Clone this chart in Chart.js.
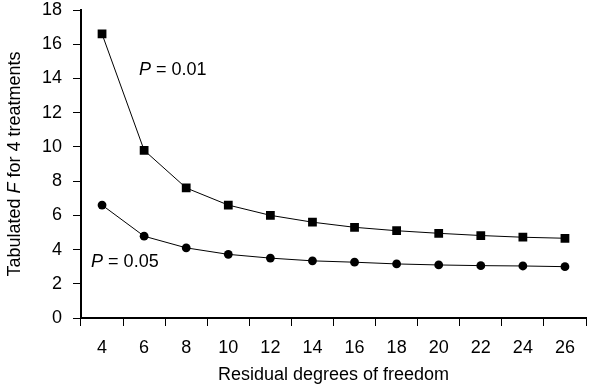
<!DOCTYPE html>
<html lang="en">
<head>
    <meta charset="UTF-8">
    <title>Tabulated F</title>
    <script src="https://cdn.jsdelivr.net/npm/chart.js"></script>
    <style>
        html, body { margin: 0; padding: 0; background: #fff; }
        #box { width: 612px; height: 388px; position: relative; }
    </style>
</head>
<body>
    <div id="box">
        <canvas id="grafico"></canvas>
    </div>
<script>
// dados
const grausLiberdade = ['4', '6', '8', '10', '12', '14', '16', '18', '20', '22', '24', '26'];
const fP001 = [16.6, 9.8, 7.6, 6.6, 6.0, 5.6, 5.3, 5.1, 4.95, 4.82, 4.72, 4.66];
const fP005 = [6.6, 4.78, 4.1, 3.72, 3.5, 3.34, 3.26, 3.16, 3.1, 3.06, 3.04, 3.0];
const yTicks = [0, 2, 4, 6, 8, 10, 12, 14, 16, 18];

// rótulos das curvas (posição em unidades do gráfico)
const rotulos = [
    { texto: '0.01', x: 0.88, y: 14.5 },
    { texto: '0.05', x: -0.26, y: 3.3 }
];

const fonte = 'Liberation Sans, Arial, sans-serif';
const tam = 18;

// escreve trechos com fontes diferentes (normal / itálico) em sequência
function textoMisto(ctx, partes, x, y) {
    let total = 0;
    partes.forEach(p => { ctx.font = (p.it ? 'italic ' : '') + tam + 'px ' + fonte; total += ctx.measureText(p.t).width; });
    let cx = x - total / 2;
    partes.forEach(p => {
        ctx.font = (p.it ? 'italic ' : '') + tam + 'px ' + fonte;
        ctx.fillText(p.t, cx, y);
        cx += ctx.measureText(p.t).width;
    });
}

const rotulosPlugin = {
    id: 'rotulos',
    afterDatasetsDraw(chart) {
        const ctx = chart.ctx;
        const xs = chart.scales.x, ys = chart.scales.y;
        ctx.save();
        ctx.fillStyle = '#000';
        ctx.textBaseline = 'middle';
        ctx.textAlign = 'left';
        rotulos.forEach(r => {
            const p0 = xs.getPixelForValue(0), p1 = xs.getPixelForValue(1);
            const px = p0 + (p1 - p0) * r.x;
            const py = ys.getPixelForValue(r.y);
            ctx.font = 'italic ' + tam + 'px ' + fonte;
            ctx.fillText('P', px, py);
            let w = ctx.measureText('P').width;
            ctx.font = tam + 'px ' + fonte;
            ctx.fillText(' = ' + r.texto, px + w, py);
        });
        // título do eixo y com F em itálico
        const area = chart.chartArea;
        ctx.translate(15, (area.top + area.bottom) / 2);
        ctx.rotate(-Math.PI / 2);
        textoMisto(ctx, [{ t: 'Tabulated ' }, { t: 'F', it: true }, { t: ' for 4 treatments' }], 0, 0);
        ctx.restore();
    }
};

const dados = {
    labels: grausLiberdade,
    datasets: [{
        label: 'P = 0.01',
        data: fP001,
        borderColor: '#000',
        backgroundColor: '#000',
        borderWidth: 1,
        pointStyle: 'rect',
        pointRadius: 6.2,
        pointBorderWidth: 0,
        tension: 0
    }, {
        label: 'P = 0.05',
        data: fP005,
        borderColor: '#000',
        backgroundColor: '#000',
        borderWidth: 1,
        pointStyle: 'circle',
        pointRadius: 4.4,
        pointBorderWidth: 0,
        tension: 0
    }]
};

const config = {
    type: 'line',
    data: dados,
    options: {
        responsive: true,
        maintainAspectRatio: false,
        animation: false,
        layout: { padding: { top: 0, right: 26, left: 0, bottom: 2 } },
        plugins: { legend: { display: false }, tooltip: { enabled: false } },
        scales: {
            x: {
                offset: true,
                grid: {
                    offset: true,
                    drawOnChartArea: false,
                    drawTicks: true,
                    tickLength: 8,
                    color: ctx => ctx.index === grausLiberdade.length ? 'rgba(0,0,0,0)' : '#000',
                    lineWidth: 1
                },
                border: { display: true, color: '#000', width: 2 },
                ticks: { color: '#000', font: { family: fonte, size: tam }, padding: 11, maxRotation: 0 },
                title: {
                    display: true, text: 'Residual degrees of freedom', color: '#000',
                    font: { family: fonte, size: tam }, padding: { top: 0, bottom: 0 }
                },
                afterFit(scale) { scale.height = 68; }
            },
            y: {
                min: 0, max: 18,
                afterBuildTicks(scale) { scale.ticks = yTicks.map(v => ({ value: v })); },
                grid: { drawOnChartArea: false, drawTicks: true, tickLength: 8, color: '#000', lineWidth: 1 },
                border: { display: true, color: '#000', width: 2 },
                ticks: { color: '#000', font: { family: fonte, size: tam }, padding: 11 },
                afterFit(scale) { scale.width = 81; scale.paddingTop = 10; scale.paddingBottom = 0; }
            }
        }
    },
    plugins: [rotulosPlugin]
};

new Chart(document.getElementById('grafico'), config);
</script>
</body>
</html>
